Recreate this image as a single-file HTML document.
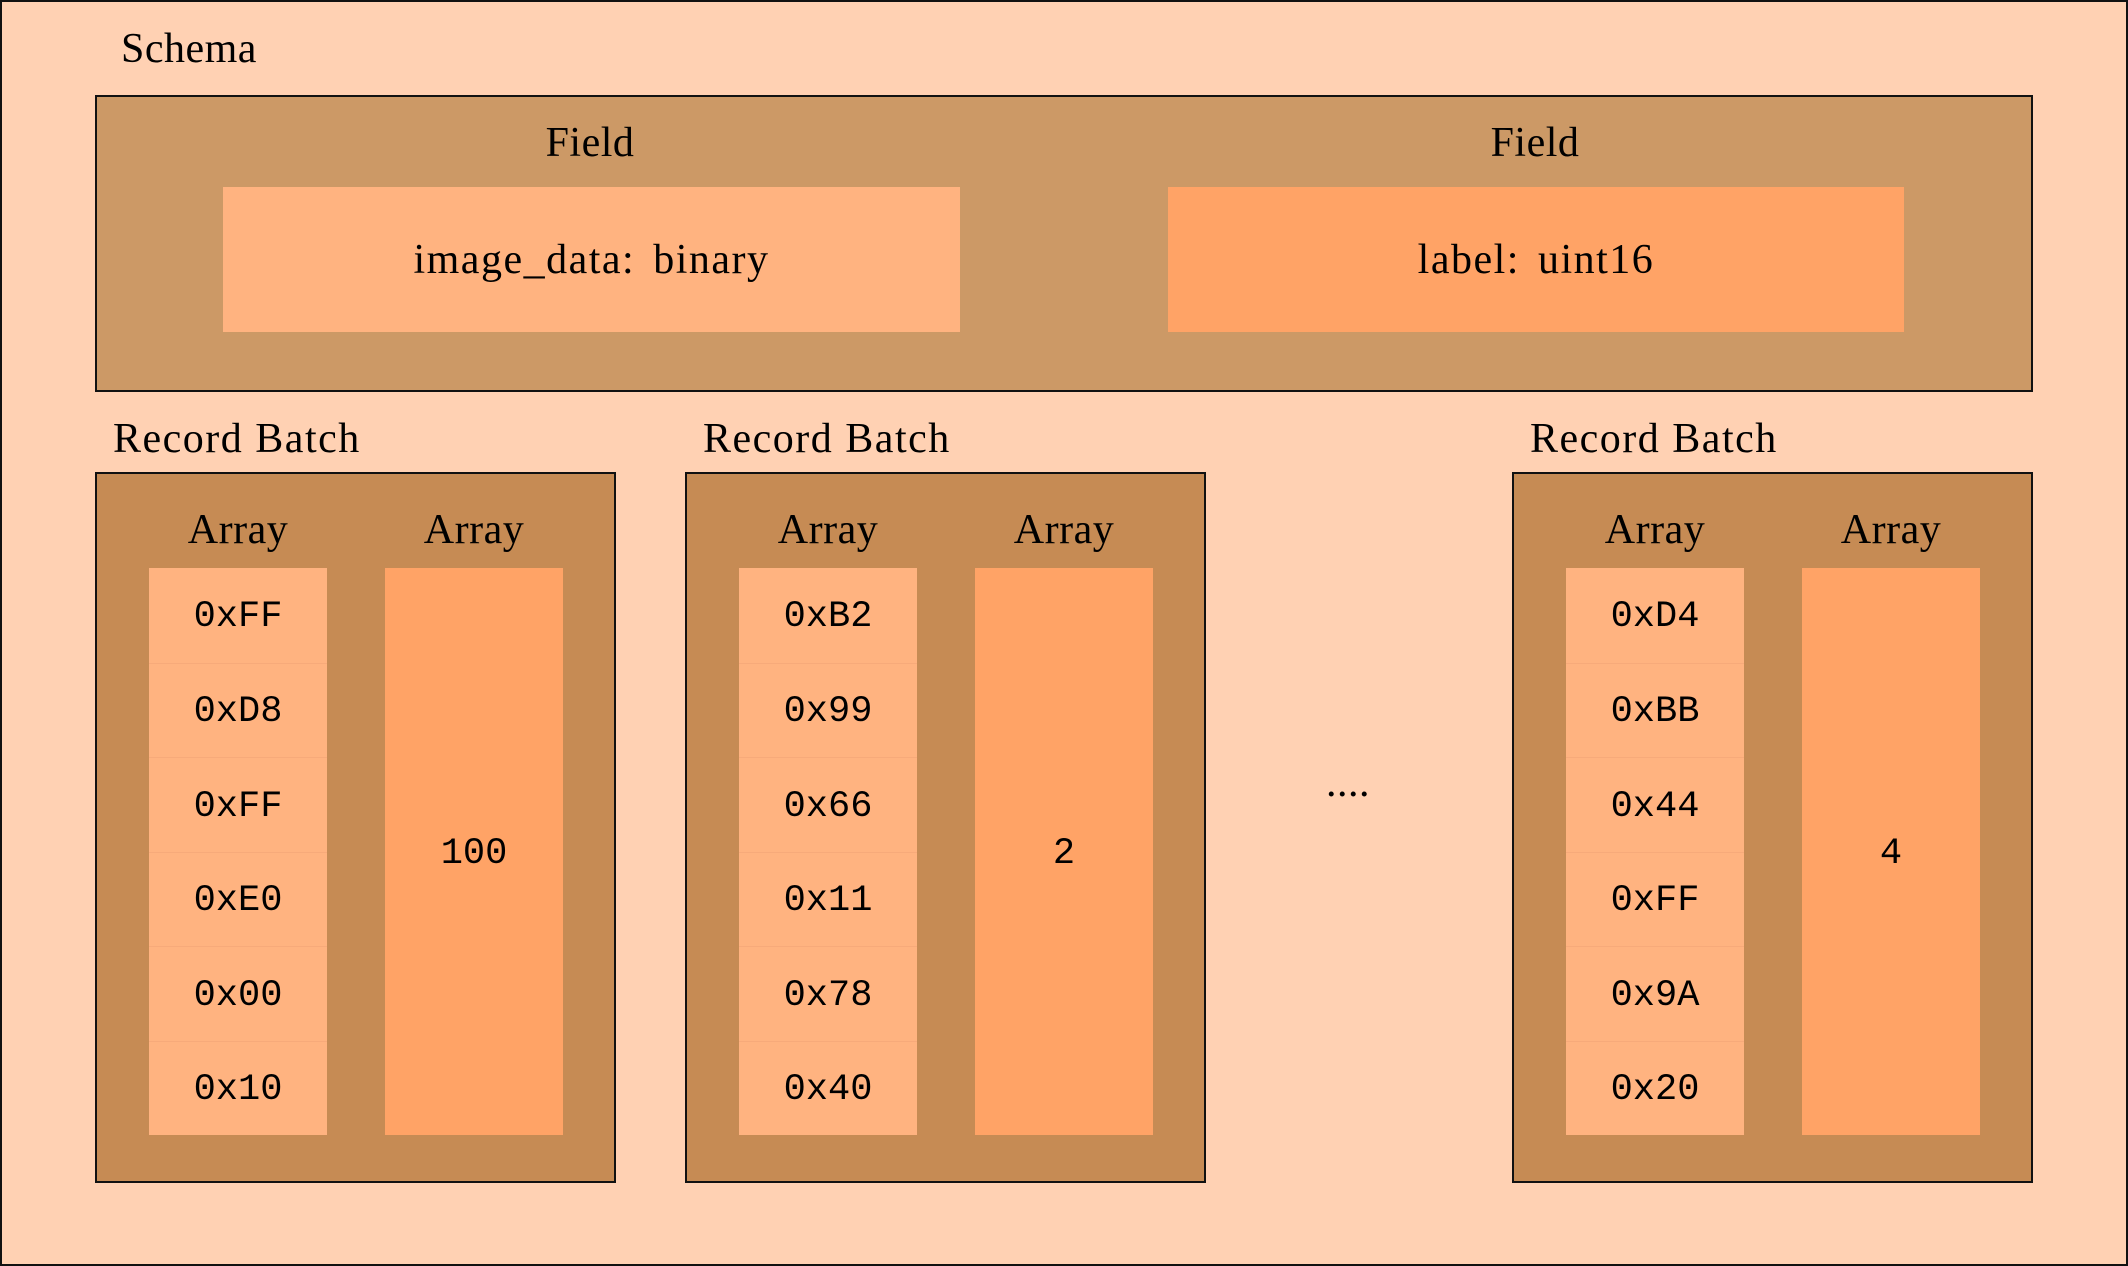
<!DOCTYPE html>
<html><head><meta charset="utf-8"><style>
*{margin:0;padding:0;box-sizing:border-box}
body{width:2128px;height:1266px;position:relative;background:#FFD1B3;font-family:"Liberation Serif",serif;color:#000;overflow:hidden}
.a{position:absolute}
.t{position:absolute;font-size:42px;line-height:50px;white-space:nowrap;letter-spacing:0.5px}
.c{text-align:center}
.bx{position:absolute;border:2px solid #111}
.m{font-family:"Liberation Mono",monospace;font-size:37px}
.cell{position:absolute;display:flex;align-items:center;justify-content:center}
</style></head><body>
<div class="a" style="left:0;top:0;width:2128px;height:1266px;border:2px solid #111"></div>
<div class="t" style="left:121px;top:24px">Schema</div>
<div class="bx" style="left:95px;top:95px;width:1938px;height:297px;background:#CC9966"></div>
<div class="t c" style="left:390px;top:118px;width:400px">Field</div>
<div class="t c" style="left:1335px;top:118px;width:400px">Field</div>
<div class="cell" style="left:223px;top:187px;width:737px;height:145px;background:#FFB380;font-size:42px;letter-spacing:1.5px;word-spacing:6px">image_data: binary</div>
<div class="cell" style="left:1168px;top:187px;width:736px;height:145px;background:#FFA366;font-size:42px;letter-spacing:1.5px;word-spacing:6px">label: uint16</div>

<div class="t" style="left:113px;top:414px;letter-spacing:1.5px">Record Batch</div>
<div class="t" style="left:703px;top:414px;letter-spacing:1.5px">Record Batch</div>
<div class="t" style="left:1530px;top:414px;letter-spacing:1.5px">Record Batch</div>

<div class="t" style="left:1326px;top:758px">....</div>

<div id="b"></div>
<script>
const data=[[95,["0xFF","0xD8","0xFF","0xE0","0x00","0x10"],"100"],[685,["0xB2","0x99","0x66","0x11","0x78","0x40"],"2"],[1512,["0xD4","0xBB","0x44","0xFF","0x9A","0x20"],"4"]];
let h="";
for(const [x,cells,v] of data){
h+=`<div class="bx" style="left:${x}px;top:472px;width:521px;height:711px;background:#C68B54"></div>`;
h+=`<div class="t c" style="left:${x+54}px;top:505px;width:178px">Array</div>`;
h+=`<div class="t c" style="left:${x+290}px;top:505px;width:178px">Array</div>`;
cells.forEach((c,i)=>{h+=`<div class="cell m" style="left:${x+54}px;top:${568+i*94.5}px;width:178px;height:94.5px;background:#FFB380;padding-top:4px;${i?'border-top:1px solid #F7AA7A;':''}">${c}</div>`;});
h+=`<div class="cell m" style="left:${x+290}px;top:568px;width:178px;height:567px;background:#FFA366;padding-top:4px">${v}</div>`;
}
document.getElementById("b").innerHTML=h;
</script>
</body></html>
